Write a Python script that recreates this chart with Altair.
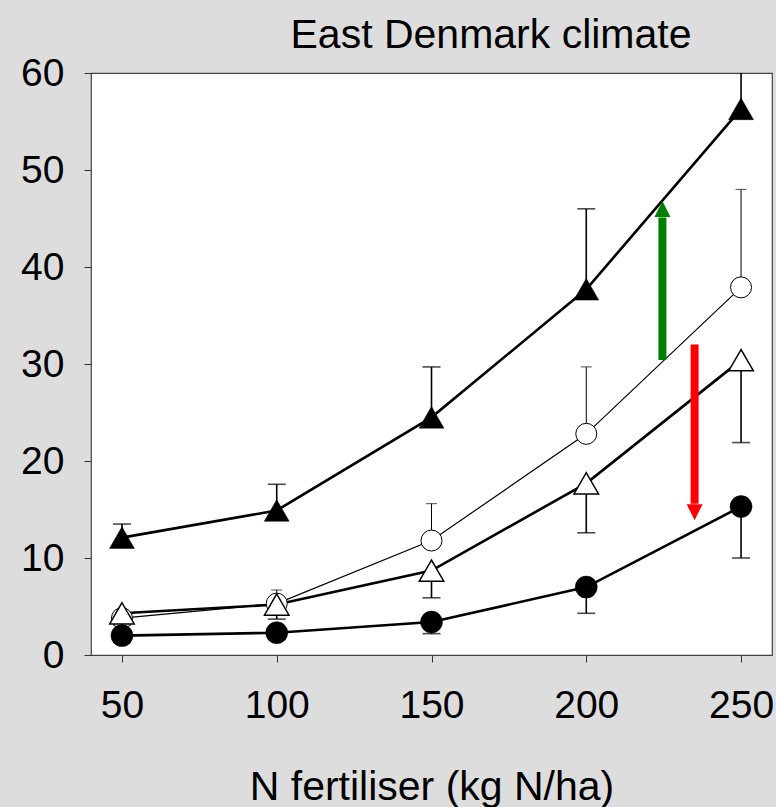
import altair as alt
import pandas as pd

# ---- data ----
n_rate = [50, 100, 150, 200, 250]
filled_tri = [12.1, 14.9, 24.5, 37.7, 56.3]
filled_tri_hi = [13.5, 17.6, 29.7, 46.0, 64.0]
open_circ = [3.8, 5.3, 11.8, 22.8, 37.9]
open_circ_hi = [4.6, 6.7, 15.6, 29.7, 48.0]
open_tri = [4.3, 5.2, 8.7, 17.7, 30.4]
open_tri_lo = [3.1, 3.7, 5.9, 12.6, 21.9]
filled_circ = [2.0, 2.3, 3.4, 7.0, 15.3]
filled_circ_lo = [1.3, 1.6, 2.2, 4.3, 10.0]

arrow_x = [224.6, 235.0]
arrow_from = [30.4, 32.0]
arrow_base = [45.1, 15.6]
arrow_tip = [46.8, 13.9]
arrow_color = ["#008000", "#ff0000"]
arrow_dir = ["up", "down"]

x_ticks = [50, 100, 150, 200, 250]
y_ticks = [0, 10, 20, 30, 40, 50, 60]
chart_title = ["East Denmark climate"]

df = pd.DataFrame({
    "x": n_rate,
    "ft": filled_tri, "ft_hi": filled_tri_hi,
    "oc": open_circ, "oc_hi": open_circ_hi,
    "ot": open_tri, "ot_lo": open_tri_lo,
    "fc": filled_circ, "fc_lo": filled_circ_lo,
})
arrows = pd.DataFrame({
    "x": arrow_x, "from": arrow_from, "base": arrow_base,
    "tip": arrow_tip, "color": arrow_color, "dir": arrow_dir,
})

FONT = "Liberation Sans"
xscale = alt.Scale(domain=[40, 260], nice=False, zero=False)
yscale = alt.Scale(domain=[0, 60], nice=False, zero=False)
xaxis = alt.Axis(values=x_ticks, title="N fertiliser (kg N/ha)", grid=False,
                 domain=False, tickSize=7, tickColor="#333333", tickWidth=1,
                 labelFont=FONT, labelFontSize=39, labelColor="black",
                 labelPadding=24, labelFlush=False,
                 titleFont=FONT, titleFontSize=41, titleFontWeight="normal",
                 titleColor="black", titleBaseline="alphabetic", titleY=144)
yaxis = alt.Axis(values=y_ticks, title=None, grid=False, domain=False,
                 tickSize=7, tickColor="#333333", tickWidth=1,
                 labelFont=FONT, labelFontSize=39, labelColor="black",
                 labelPadding=20)


def X():
    return alt.X("x:Q", scale=xscale, axis=xaxis)


def Y(field):
    return alt.Y(f"{field}:Q", scale=yscale, axis=yaxis)


base = alt.Chart(df)


def line(field, w):
    return base.mark_line(color="black", strokeWidth=w, clip=True).encode(x=X(), y=Y(field))


def err(field, end, w, cap):
    r = base.mark_rule(color="black", strokeWidth=w, clip=True).encode(
        x=X(), y=Y(field), y2=alt.Y2(f"{end}:Q"))
    t = base.mark_tick(color="black", orient="horizontal", size=cap,
                       thickness=w, clip=True).encode(x=X(), y=Y(end))
    return r + t


def pts(field, shape, size, filled, sw):
    if filled:
        m = base.mark_point(shape=shape, size=size, filled=True, fill="black",
                            stroke="black", strokeWidth=0.5, opacity=1)
    else:
        m = base.mark_point(shape=shape, size=size, filled=True, fill="white",
                            stroke="black", strokeWidth=sw, opacity=1)
    return m.encode(x=X(), y=Y(field))


abase = alt.Chart(arrows)
shaft = abase.mark_rule(strokeWidth=8, strokeCap="butt").encode(
    x=alt.X("x:Q", scale=xscale, axis=xaxis),
    y=alt.Y("from:Q", scale=yscale, axis=yaxis), y2="base:Q",
    color=alt.Color("color:N", scale=None))
head_up = abase.transform_filter(alt.datum.dir == "up").mark_point(
    shape="M0,0L-1,2L1,2Z", size=256, filled=True, opacity=1, strokeWidth=0).encode(
    x=alt.X("x:Q", scale=xscale, axis=xaxis),
    y=alt.Y("tip:Q", scale=yscale, axis=yaxis),
    color=alt.Color("color:N", scale=None))
head_down = abase.transform_filter(alt.datum.dir == "down").mark_point(
    shape="M0,0L-1,-2L1,-2Z", size=256, filled=True, opacity=1, strokeWidth=0).encode(
    x=alt.X("x:Q", scale=xscale, axis=xaxis),
    y=alt.Y("tip:Q", scale=yscale, axis=yaxis),
    color=alt.Color("color:N", scale=None))

title_mark = alt.Chart(pd.DataFrame({"t": chart_title})).mark_text(
    font=FONT, fontSize=41, color="black", align="center",
    baseline="alphabetic", clip=False).encode(
    x=alt.value(400), y=alt.value(-25), text="t:N")

chart = alt.layer(
    err("ft", "ft_hi", 1.6, 18),
    err("oc", "oc_hi", 1.0, 11),
    err("ot", "ot_lo", 1.6, 18),
    err("fc", "fc_lo", 1.6, 18),
    line("ft", 2.6),
    line("oc", 1.2),
    line("ot", 2.6),
    line("fc", 2.6),
    shaft, head_up, head_down,
    pts("oc", "circle", 441, False, 1.0),
    pts("ot", "triangle-up", 600, False, 1.5),
    pts("ft", "triangle-up", 620, True, 1),
    pts("fc", "circle", 484, True, 1),
    title_mark,
).properties(
    width=681, height=582,
    autosize=alt.AutoSizeParams(type="none"),
    padding={"left": 91, "top": 73, "right": 4, "bottom": 152},
).configure(background="#dddddd").configure_view(
    fill="white", stroke="#444444", strokeWidth=1.2)

chart.save("out.html", embed_options={"renderer": "svg", "actions": False})
